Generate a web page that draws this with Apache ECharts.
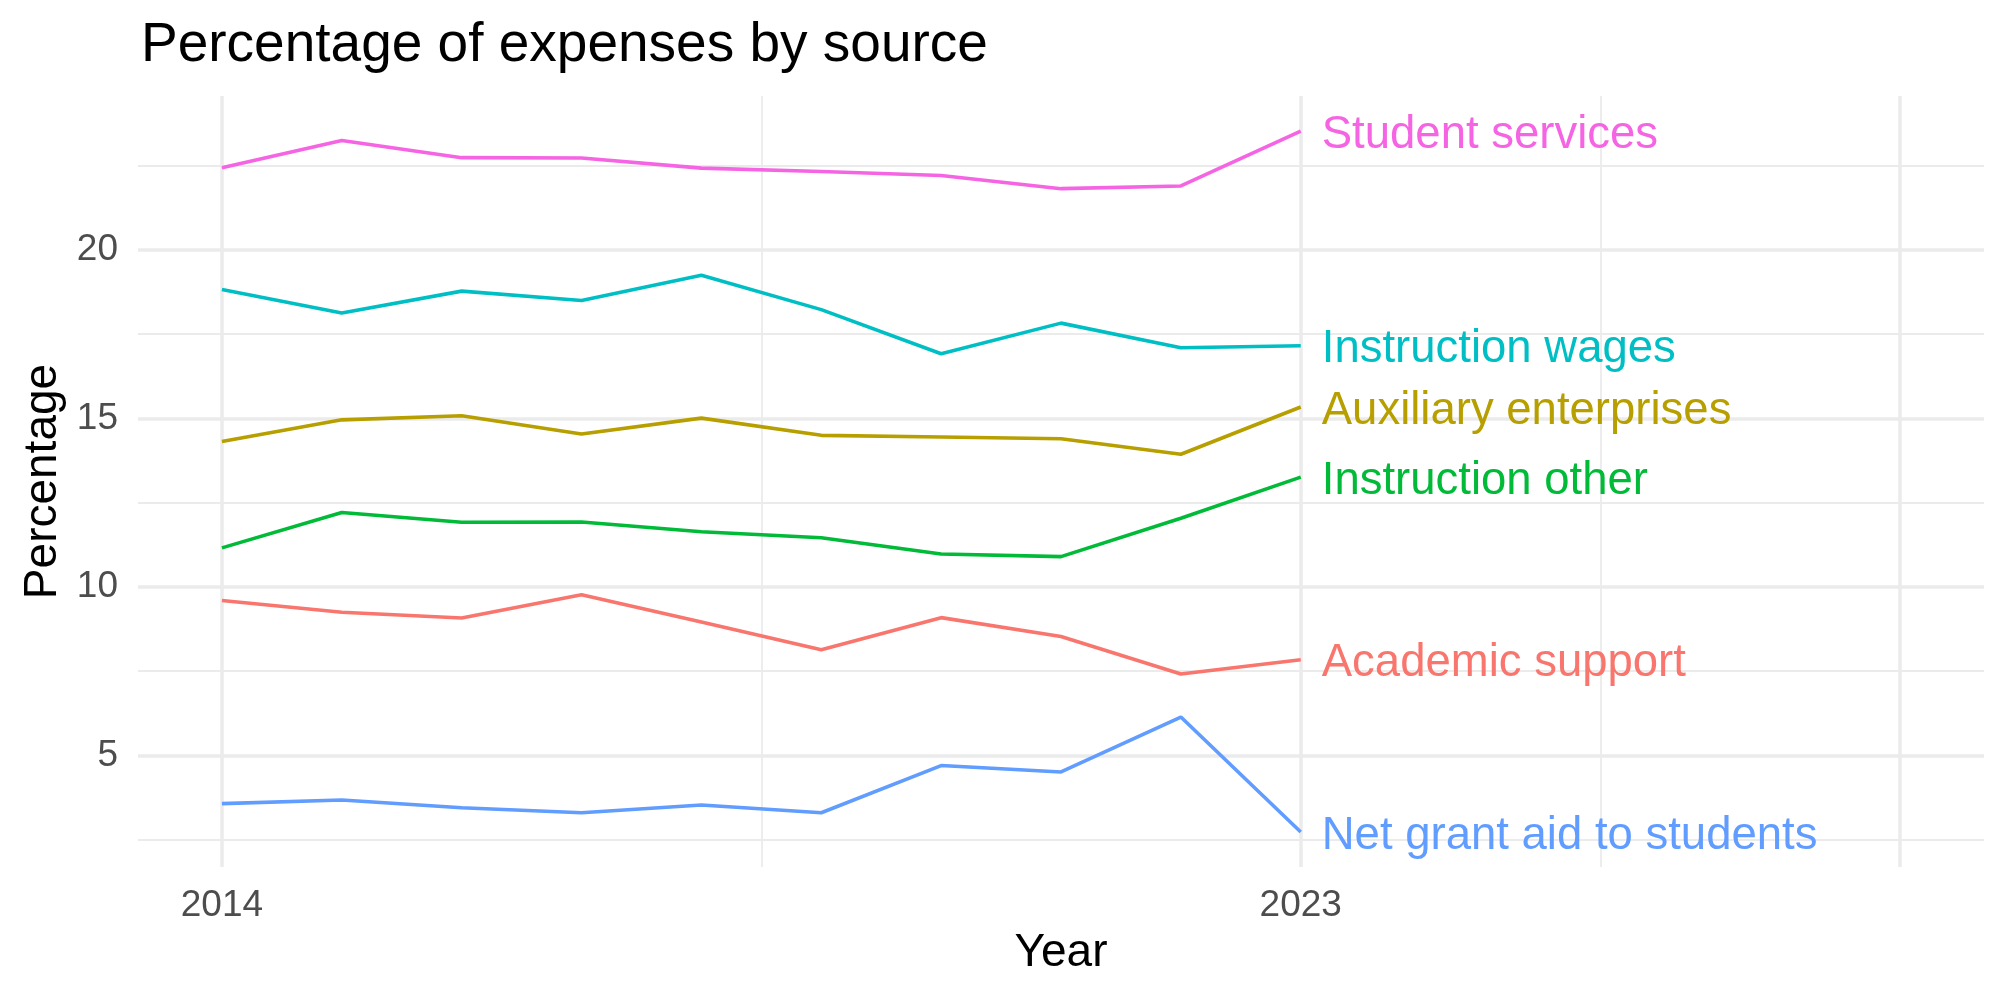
<!DOCTYPE html>
<html>
<head>
<meta charset="utf-8">
<script src="https://cdn.jsdelivr.net/npm/echarts@6/dist/echarts.min.js"></script>
<style>html,body{margin:0;padding:0;background:#fff}</style>
</head>
<body>
<div id="main" style="width:2000px;height:1000px"></div>
<script>
// data
const years = [2014, 2015, 2016, 2017, 2018, 2019, 2020, 2021, 2022, 2023];
const academicSupport = [9.60, 9.25, 9.08, 9.77, 8.96, 8.14, 9.09, 8.53, 7.42, 7.84];
const auxiliaryEnterprises = [14.32, 14.96, 15.08, 14.54, 15.01, 14.50, 14.45, 14.40, 13.94, 15.34];
const instructionOther = [11.16, 12.21, 11.92, 11.93, 11.64, 11.46, 10.98, 10.90, 12.04, 13.26];
const instructionWages = [18.83, 18.13, 18.78, 18.50, 19.25, 18.23, 16.92, 17.83, 17.10, 17.16];
const netGrantAid = [3.57, 3.68, 3.45, 3.30, 3.53, 3.30, 4.70, 4.51, 6.14, 2.73];
const studentServices = [22.44, 23.25, 22.74, 22.73, 22.43, 22.33, 22.21, 21.82, 21.90, 23.53];

const xTicks = [2014, 2023];
const yTicks = [5, 10, 15, 20];
const xMajorGrid = [2014, 2023, 2028];
const xMinorGrid = [2018.5, 2025.5];
const yMajorGrid = [5, 10, 15, 20];
const yMinorGrid = [2.5, 7.5, 12.5, 17.5, 22.5];

const FONT = 'Liberation Sans';
const chart = echarts.init(document.getElementById('main'));

const makeSeries = (name, values, color) => ({
  name: name,
  type: 'line',
  data: years.map((y, i) => [y, values[i]]),
  showSymbol: false,
  z: 3,
  lineStyle: { color: color, width: 3.6 },
  itemStyle: { color: color },
  endLabel: {
    show: true,
    formatter: '{a}',
    color: color,
    fontFamily: FONT,
    fontSize: 45.5,
    distance: 24,
    offset: [-3, 4]
  },
  emphasis: { disabled: true }
});

const gridLine = (key, v, w) => ({ [key]: v, lineStyle: { color: '#EBEBEB', width: w, type: 'solid' } });

const option = {
  animation: false,
  backgroundColor: '#fff',
  title: {
    text: 'Percentage of expenses by source',
    left: 136,
    top: 13,
    textStyle: { fontFamily: FONT, fontSize: 55, fontWeight: 'normal', color: '#000' }
  },
  grid: { left: 138, right: 16, top: 96, bottom: 133 },
  xAxis: {
    type: 'value',
    min: 2013.3,
    max: 2028.7,
    name: 'Year',
    nameLocation: 'middle',
    nameGap: 63,
    nameTextStyle: { fontFamily: FONT, fontSize: 46, color: '#000' },
    axisLine: { show: false },
    axisTick: { show: false },
    splitLine: { show: false },
    axisLabel: {
      customValues: xTicks,
      formatter: v => String(v),
      fontFamily: FONT,
      fontSize: 37,
      color: '#4D4D4D',
      margin: 20
    }
  },
  yAxis: {
    type: 'value',
    min: 1.69,
    max: 24.57,
    name: 'Percentage',
    nameLocation: 'middle',
    nameRotate: 90,
    nameGap: 72,
    nameTextStyle: { fontFamily: FONT, fontSize: 46, color: '#000' },
    axisLine: { show: false },
    axisTick: { show: false },
    splitLine: { show: false },
    axisLabel: {
      customValues: yTicks,
      fontFamily: FONT,
      fontSize: 37,
      color: '#4D4D4D',
      margin: 20
    }
  },
  series: [
    {
      name: 'grid',
      type: 'line',
      data: [],
      z: 0,
      silent: true,
      markLine: {
        silent: true,
        symbol: 'none',
        z: 0,
        label: { show: false },
        emphasis: { disabled: true },
        data: [
          ...yMinorGrid.map(v => gridLine('yAxis', v, 1.8)),
          ...xMinorGrid.map(v => gridLine('xAxis', v, 1.8)),
          ...yMajorGrid.map(v => gridLine('yAxis', v, 3.5)),
          ...xMajorGrid.map(v => gridLine('xAxis', v, 3.5))
        ]
      }
    },
    makeSeries('Academic support', academicSupport, '#F8766D'),
    makeSeries('Auxiliary enterprises', auxiliaryEnterprises, '#B79F00'),
    makeSeries('Instruction other', instructionOther, '#00BA38'),
    makeSeries('Instruction wages', instructionWages, '#00BFC4'),
    makeSeries('Net grant aid to students', netGrantAid, '#619CFF'),
    makeSeries('Student services', studentServices, '#F564E3')
  ]
};

option && chart.setOption(option);
</script>
</body>
</html>
